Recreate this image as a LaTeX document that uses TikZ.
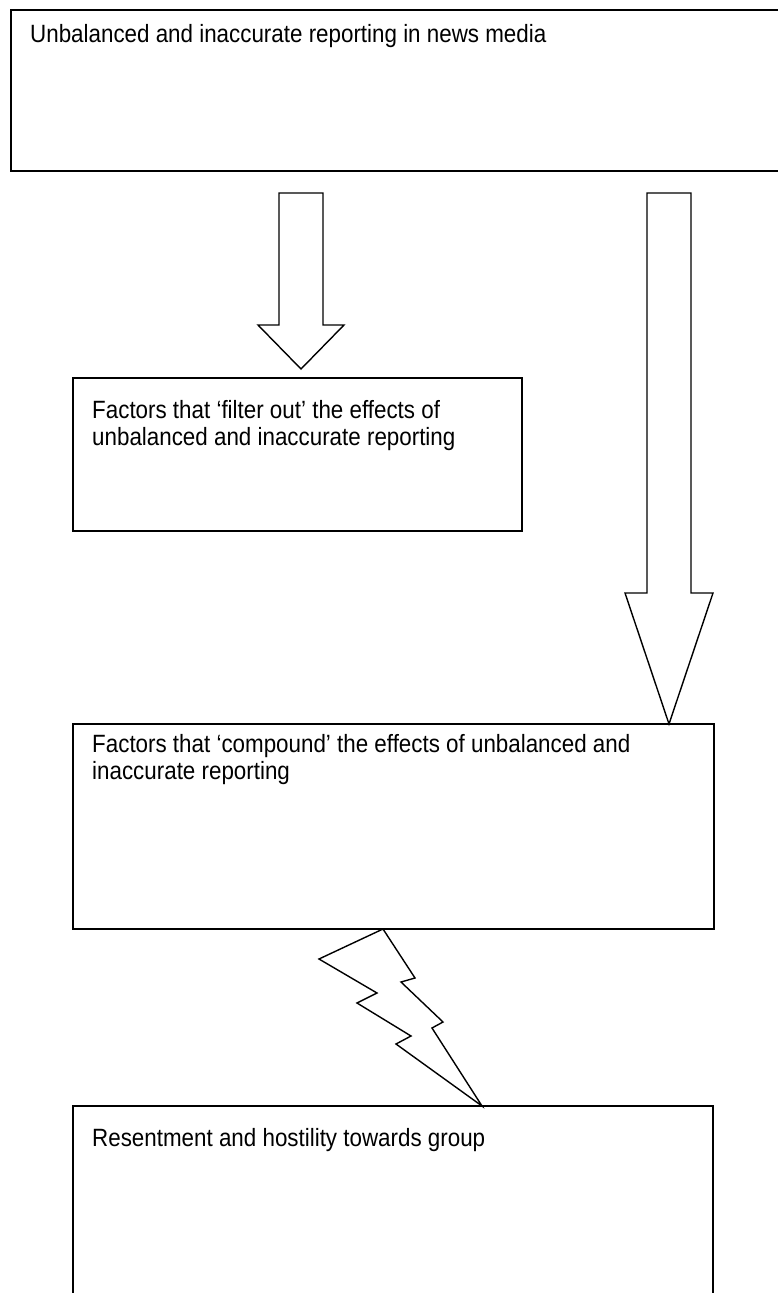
\documentclass[tikz,border=0pt]{standalone}
\usepackage{fontspec}
\newfontfamily\reportfont{Liberation Sans}[FakeStretch=0.895]
\usetikzlibrary{calc, positioning}

\begin{document}
\begin{tikzpicture}[x=1pt, y=-1pt,
  box/.style = {draw, line width=1.7pt, anchor=north west, inner sep=0pt, outer sep=0pt},
  boxtext/.style = {anchor=base west, inner sep=0pt, align=left,
    font=\reportfont\fontsize{25}{26.5}\selectfont},
  blockarrow/.style = {draw, line width=1.4pt, line join=miter},
  bolt/.style = {draw, line width=1.4pt, line join=miter}]
\useasboundingbox (0,0) rectangle (777,1293);

% the four boxes
\node[box, minimum width=784pt, minimum height=161pt] (news) at (11,10) {};
\node[box, minimum width=449pt, minimum height=153pt] (filter) at (73,378) {};
\node[box, minimum width=641pt, minimum height=205pt] (compound) at (73,724) {};
\node[box, minimum width=640pt, minimum height=230pt] (resent) at (73,1106) {};
\draw[line width=2.6pt] ([yshift=-107pt]news.north west) -- ++(0,8);

% texts (base = last line)
\node[boxtext] (news-text) at (30,42) {Unbalanced and inaccurate reporting in news media};
\node[boxtext] (filter-text) at (92,445) {Factors that ‘filter out’ the effects of\\unbalanced and inaccurate reporting};
\node[boxtext] (compound-text) at (92,779) {Factors that ‘compound’ the effects of unbalanced and\\inaccurate reporting};
\node[boxtext] (resent-text) at (92,1146) {Resentment and hostility towards group};

% block arrows
\path (filter.north) ++(3.5,-9) coordinate (filter-tip);
\draw[blockarrow] (filter-tip) -- ++(-43,-44) -- ++(21,0) -- ++(0,-132) -- ++(44,0) -- ++(0,132) -- ++(21,0) -- cycle;
\path (compound.north east) ++(-45,0) coordinate (compound-tip);
\draw[blockarrow] (compound-tip) -- ++(-44,-131) -- ++(22,0) -- ++(0,-400) -- ++(44,0) -- ++(0,400) -- ++(22,0) -- cycle;

% lightning bolt
\path (compound.south) ++(-10.5,0) coordinate (bolt-top);
\path (resent.north) ++(89,0) coordinate (bolt-tip);
\draw[bolt] (bolt-top) -- (319,959) -- (377,993) -- (357,1003) -- (411,1036) -- (396,1044) -- (bolt-tip)
  -- (432,1028) -- (443,1022) -- (401,982) -- (415,978) -- cycle;
\end{tikzpicture}
\end{document}
